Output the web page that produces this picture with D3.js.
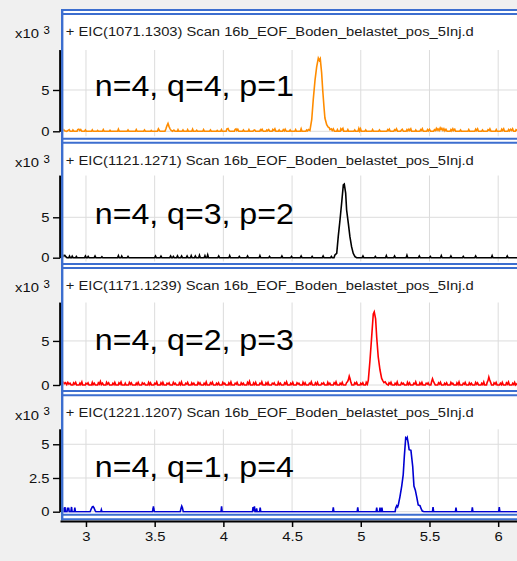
<!DOCTYPE html>
<html>
<head>
<meta charset="utf-8">
<script src="https://cdn.jsdelivr.net/npm/d3@7"></script>
<style>
  html, body { margin: 0; padding: 0; background: #f0f0f0; }
  svg { display: block; font-family: "Liberation Sans", Arial, sans-serif; }
</style>
</head>
<body>
<svg id="chart" width="517" height="561"></svg>
<script>
// Extracted ion chromatograms, intensities in thousands of counts, time in minutes
const titles = [
  "+ EIC(1071.1303) Scan 16b_EOF_Boden_belastet_pos_5Inj.d",
  "+ EIC(1121.1271) Scan 16b_EOF_Boden_belastet_pos_5Inj.d",
  "+ EIC(1171.1239) Scan 16b_EOF_Boden_belastet_pos_5Inj.d",
  "+ EIC(1221.1207) Scan 16b_EOF_Boden_belastet_pos_5Inj.d"
];
const labels = ["n=4, q=4, p=1", "n=4, q=3, p=2", "n=4, q=2, p=3", "n=4, q=1, p=4"];
const traceColors = ["#ff8c00", "#000000", "#ff0000", "#0000d2"];
const yMax = [9.84, 10.17, 9.36, 6.11];
const yTickValues = [[0, 5], [0, 5], [0, 5], [0, 2.5, 5]];
const xTickValues = [3, 3.5, 4, 4.5, 5, 5.5, 6];
const xRange = [2.811, 6.137];

const eic1071 = [
  [2.815,0.15],[2.822,0.25],[2.830,0.1],[2.838,0.2],[2.845,0.05],[2.860,0],[2.870,0.12],[2.878,0.2],[2.885,0],[2.900,0],[2.905,0.15],[2.912,0],
  [2.935,0],[2.940,0.2],[2.948,0.25],[2.955,0.1],[2.962,0.22],[2.970,0],[2.990,0],[2.996,0.15],[3.002,0],[3.040,0],[3.046,0.18],[3.052,0],
  [3.080,0],[3.085,0.1],[3.090,0],[3.120,0],[3.126,0.2],[3.132,0],[3.170,0],[3.175,0.12],[3.180,0],[3.230,0],[3.236,0.25],[3.242,0],
  [3.300,0],[3.306,0.15],[3.312,0],[3.360,0],[3.366,0.2],[3.372,0],[3.420,0],[3.426,0.15],[3.432,0],[3.470,0],[3.475,0.1],[3.480,0],
  [3.520,0],[3.527,0.3],[3.534,0.1],[3.540,0],[3.575,0],[3.582,0.3],[3.590,0.7],[3.597,0.95],[3.604,0.6],[3.612,0.3],[3.620,0.1],[3.630,0],
  [3.640,0.15],[3.648,0],[3.665,0],[3.670,0.2],[3.676,0],[3.700,0],[3.706,0.15],[3.712,0],[3.735,0],[3.740,0.2],[3.746,0],[3.770,0],
  [3.776,0.25],[3.782,0],[3.800,0],[3.806,0.12],[3.812,0],[3.850,0],[3.856,0.2],[3.862,0],[3.900,0],[3.906,0.15],[3.912,0],[3.950,0],
  [3.955,0.1],[3.960,0],[3.980,0],[3.986,0.2],[3.992,0],[4.020,0],[4.026,0.3],[4.034,0.35],[4.040,0.1],[4.048,0],[4.080,0],[4.085,0.2],
  [4.092,0.28],[4.098,0.1],[4.105,0.25],[4.112,0],[4.140,0],[4.146,0.15],[4.152,0],[4.180,0],[4.186,0.2],[4.192,0],[4.215,0],[4.220,0.1],
  [4.228,0.15],[4.235,0],[4.265,0],[4.270,0.2],[4.276,0.1],[4.282,0.25],[4.290,0],[4.310,0],[4.316,0.15],[4.322,0.05],[4.330,0.2],[4.338,0],
  [4.355,0],[4.360,0.22],[4.368,0.1],[4.375,0.3],[4.382,0],[4.400,0],[4.406,0.15],[4.412,0],[4.430,0],[4.436,0.2],[4.444,0.05],[4.450,0.25],
  [4.458,0],[4.480,0],[4.486,0.15],[4.492,0],[4.520,0],[4.526,0.2],[4.532,0],[4.560,0],[4.566,0.3],[4.572,0],[4.600,0],[4.606,0.15],
  [4.612,0.05],[4.620,0.2],
  [4.630,0.1],[4.643,1.4],[4.654,3.8],[4.667,6.2],[4.679,7.8],[4.691,8.85],[4.698,8.6],[4.705,8.8],[4.715,7.1],[4.723,5.0],[4.732,3.0],
  [4.739,1.6],[4.752,0.8],[4.763,0.5],[4.770,0.45],[4.776,0.2],[4.785,0.3],[4.792,0.1],[4.800,0.3],[4.808,0],
  [4.825,0],[4.830,0.2],[4.836,0],[4.850,0],[4.855,0.3],[4.862,0.15],[4.870,0.35],[4.876,0],[4.900,0],[4.906,0.2],[4.912,0],[4.950,0],
  [4.956,0.15],[4.962,0],[4.980,0],[4.986,0.35],[4.992,0.05],[4.998,0.3],[5.004,0],[5.030,0],[5.036,0.15],[5.042,0],[5.080,0],[5.086,0.2],
  [5.092,0],[5.130,0],[5.136,0.15],[5.142,0],[5.190,0],[5.196,0.2],[5.202,0.1],[5.208,0.25],[5.214,0],[5.240,0],[5.246,0.2],[5.254,0.1],
  [5.260,0.3],[5.268,0],[5.290,0],[5.296,0.15],[5.302,0.25],[5.310,0],[5.330,0],[5.336,0.2],[5.342,0.05],[5.350,0.25],[5.356,0.1],[5.364,0.3],
  [5.370,0],[5.395,0],[5.400,0.15],[5.406,0],[5.430,0],[5.436,0.2],[5.442,0.1],[5.448,0.3],[5.455,0],[5.480,0],[5.486,0.2],[5.492,0.05],
  [5.500,0.25],[5.508,0],[5.530,0],[5.536,0.2],[5.544,0.1],[5.550,0.35],[5.556,0.15],[5.562,0.3],[5.570,0.1],[5.578,0.4],[5.584,0.2],[5.590,0.35],
  [5.598,0.1],[5.605,0.3],[5.612,0.05],[5.620,0.25],[5.628,0],[5.650,0],[5.656,0.2],[5.662,0.05],[5.670,0.3],[5.676,0.1],[5.684,0.25],[5.690,0],
  [5.720,0],[5.726,0.15],[5.732,0],[5.780,0],[5.786,0.2],[5.792,0],[5.830,0],[5.836,0.25],[5.842,0.1],[5.850,0.3],[5.856,0],[5.880,0],
  [5.886,0.15],[5.892,0],[5.920,0],[5.926,0.2],[5.934,0.1],[5.940,0.3],[5.948,0],[5.980,0],[5.986,0.2],[5.992,0],[6.020,0],[6.026,0.25],
  [6.032,0.1],[6.040,0.3],[6.046,0],[6.070,0],[6.076,0.2],[6.082,0.05],[6.090,0.25],[6.098,0.1],[6.105,0.3],[6.112,0],[6.125,0],[6.130,0.2],
  [6.140,0.1]
];

const eic1121 = [
  [2.815,0.3],[2.822,0.15],[2.830,0.35],[2.838,0.2],[2.846,0.3],[2.855,0.1],[2.862,0],[2.875,0],[2.880,0.2],[2.886,0],[2.895,0],[2.900,0.18],
  [2.906,0],[2.925,0],[2.930,0.15],[2.936,0],[2.990,0],[2.996,0.2],[3.002,0],[3.010,0],[3.016,0.15],[3.022,0],[3.060,0],[3.066,0.2],
  [3.072,0],[3.110,0],[3.116,0.12],[3.122,0],[3.230,0],[3.236,0.25],[3.242,0],[3.255,0],[3.260,0.2],[3.266,0],[3.300,0],[3.306,0.15],
  [3.312,0],[3.500,0],[3.506,0.2],[3.512,0],[3.540,0],[3.546,0.18],[3.552,0],[3.610,0],[3.616,0.2],[3.622,0],[3.630,0],[3.636,0.15],
  [3.642,0],[3.660,0],[3.666,0.22],[3.672,0],[3.690,0],[3.696,0.2],[3.702,0],[3.730,0],[3.736,0.2],[3.742,0],[3.760,0],[3.766,0.25],
  [3.772,0],[3.790,0],[3.796,0.2],[3.802,0],[3.820,0],[3.826,0.3],[3.832,0],[3.860,0],[3.866,0.25],[3.872,0],[3.880,0],[3.886,0.35],
  [3.892,0],[3.960,0],[3.966,0.2],[3.972,0],[4.040,0],[4.046,0.25],[4.052,0],[4.110,0],[4.116,0.15],[4.122,0],[4.170,0],[4.176,0.2],
  [4.182,0],[4.260,0],[4.266,0.25],[4.272,0],[4.330,0],[4.336,0.15],[4.342,0],[4.420,0],[4.426,0.2],[4.432,0],[4.490,0],[4.496,0.15],
  [4.502,0],[4.560,0],[4.566,0.2],[4.572,0],[4.640,0],[4.646,0.15],[4.652,0],[4.720,0],[4.726,0.2],[4.732,0],[4.780,0],[4.786,0.15],
  [4.792,0],
  [4.805,0],[4.812,0.33],[4.825,0.54],[4.836,2.6],[4.849,4.7],[4.861,6.8],[4.873,9.0],[4.880,9.1],[4.890,8.0],[4.897,5.9],[4.909,4.3],
  [4.921,2.6],[4.933,1.36],[4.945,0.54],[4.958,0.12],[4.970,0],
  [5.010,0],[5.016,0.2],[5.022,0],[5.100,0],[5.106,0.15],[5.112,0],[5.180,0],[5.186,0.25],[5.192,0],[5.240,0],[5.246,0.2],[5.252,0],
  [5.330,0],[5.336,0.3],[5.342,0],[5.420,0],[5.426,0.2],[5.432,0],[5.500,0],[5.506,0.15],[5.512,0],[5.580,0],[5.586,0.25],[5.592,0],
  [5.650,0],[5.656,0.2],[5.662,0],[5.740,0],[5.746,0.15],[5.752,0],[5.830,0],[5.836,0.2],[5.842,0],[5.950,0],[5.956,0.25],[5.962,0],
  [6.060,0],[6.066,0.2],[6.072,0],[6.140,0]
];

const eic1171 = [
  [2.815,0.2],[2.822,0.35],[2.830,0.1],[2.838,0.3],[2.845,0.15],[2.852,0.25],[2.860,0.05],[2.868,0.3],[2.876,0.1],[2.884,0.2],[2.892,0],
  [2.905,0],[2.910,0.25],[2.918,0.1],[2.925,0.3],[2.932,0],[2.950,0],[2.956,0.2],[2.962,0.05],[2.970,0.35],[2.976,0],[2.995,0],[3.000,0.2],
  [3.008,0.1],[3.015,0.25],[3.022,0],[3.040,0],[3.046,0.3],[3.052,0.05],[3.060,0.2],[3.068,0],[3.085,0],[3.090,0.25],[3.098,0.1],[3.105,0.4],
  [3.112,0.05],[3.120,0.2],[3.128,0],[3.145,0],[3.150,0.3],[3.158,0.1],[3.165,0.25],[3.172,0],[3.190,0],[3.196,0.2],[3.204,0.05],[3.210,0.3],
  [3.218,0],[3.235,0],[3.240,0.25],[3.248,0.1],[3.255,0.35],[3.262,0],[3.280,0],[3.286,0.2],[3.292,0],[3.310,0],[3.316,0.3],[3.324,0.1],
  [3.330,0.25],[3.338,0],[3.360,0],[3.366,0.2],[3.372,0.05],[3.380,0.3],[3.388,0],[3.405,0],[3.410,0.25],[3.418,0.1],[3.425,0.2],[3.432,0],
  [3.450,0],[3.456,0.3],[3.464,0.05],[3.470,0.25],[3.478,0],[3.495,0],[3.500,0.2],[3.508,0.1],[3.515,0.35],[3.522,0],[3.540,0],[3.546,0.25],
  [3.554,0.05],[3.560,0.3],[3.568,0],[3.585,0],[3.590,0.2],[3.598,0.1],[3.605,0.25],[3.612,0],[3.630,0],[3.636,0.3],[3.644,0.1],[3.650,0.2],
  [3.658,0],[3.675,0],[3.680,0.25],[3.688,0.05],[3.695,0.35],[3.702,0],[3.720,0],[3.726,0.2],[3.734,0.1],[3.740,0.3],[3.748,0],[3.765,0],
  [3.770,0.25],[3.778,0.05],[3.785,0.2],[3.792,0],[3.810,0],[3.816,0.3],[3.824,0.1],[3.830,0.25],[3.838,0],[3.855,0],[3.860,0.2],[3.868,0.05],
  [3.875,0.35],[3.882,0],[3.900,0],[3.906,0.25],[3.914,0.1],[3.920,0.3],[3.928,0],[3.945,0],[3.950,0.2],[3.958,0.05],[3.965,0.25],[3.972,0],
  [3.990,0],[3.996,0.3],[4.004,0.1],[4.010,0.2],[4.018,0],[4.035,0],[4.040,0.25],[4.048,0.05],[4.055,0.35],[4.062,0],[4.080,0],[4.086,0.2],
  [4.094,0.1],[4.100,0.3],[4.108,0],[4.125,0],[4.130,0.25],[4.138,0.05],[4.145,0.2],[4.152,0],[4.170,0],[4.176,0.3],[4.184,0.1],[4.190,0.4],
  [4.198,0],[4.215,0],[4.220,0.25],[4.228,0.05],[4.235,0.3],[4.242,0],[4.260,0],[4.266,0.2],[4.274,0.1],[4.280,0.35],[4.288,0],[4.305,0],
  [4.310,0.25],[4.318,0.05],[4.325,0.3],[4.332,0],[4.350,0],[4.356,0.2],[4.364,0.1],[4.370,0.25],[4.378,0],[4.395,0],[4.400,0.3],[4.408,0.05],
  [4.415,0.2],[4.422,0],[4.440,0],[4.446,0.25],[4.454,0.1],[4.460,0.35],[4.468,0],[4.485,0],[4.490,0.2],[4.498,0.05],[4.505,0.3],[4.512,0],
  [4.530,0],[4.536,0.25],[4.544,0.1],[4.550,0.2],[4.558,0],[4.575,0],[4.580,0.3],[4.588,0.05],[4.595,0.25],[4.602,0],[4.620,0],[4.626,0.2],
  [4.634,0.1],[4.640,0.35],[4.648,0],[4.665,0],[4.670,0.25],[4.678,0.05],[4.685,0.3],[4.692,0],[4.710,0],[4.716,0.2],[4.724,0.1],[4.730,0.25],
  [4.738,0],[4.755,0],[4.760,0.3],[4.768,0.05],[4.775,0.2],[4.782,0],[4.800,0],[4.806,0.25],[4.814,0.1],[4.820,0.35],[4.828,0],[4.845,0],
  [4.850,0.2],[4.858,0.05],[4.865,0.3],[4.872,0],[4.890,0],[4.896,0.25],[4.904,0.4],[4.910,0.6],[4.916,1.0],[4.922,0.7],[4.928,0.3],[4.935,0],
  [4.950,0],[4.956,0.25],[4.964,0.1],[4.970,0.3],[4.978,0],[4.995,0],[5.000,0.2],[5.008,0.05],[5.015,0.25],[5.022,0],[5.035,0],[5.040,0.3],
  [5.048,0.1],
  [5.055,0.56],[5.067,2.8],[5.079,5.4],[5.091,8.06],[5.098,8.3],[5.108,7.5],[5.116,5.4],[5.127,3.2],[5.140,1.7],[5.152,0.75],[5.160,0.5],
  [5.169,0.26],[5.178,0.35],[5.188,0.1],
  [5.200,0],[5.206,0.25],[5.214,0.1],[5.220,0.3],[5.228,0],[5.245,0],[5.250,0.2],[5.258,0.05],[5.265,0.35],[5.272,0],[5.290,0],[5.296,0.25],
  [5.304,0.1],[5.310,0.2],[5.318,0],[5.335,0],[5.340,0.3],[5.348,0.05],[5.355,0.25],[5.362,0],[5.380,0],[5.386,0.2],[5.394,0.1],[5.400,0.35],
  [5.408,0],[5.425,0],[5.430,0.25],[5.438,0.05],[5.445,0.3],[5.452,0],[5.470,0],[5.476,0.2],[5.484,0.1],[5.490,0.25],[5.498,0],[5.510,0],
  [5.516,0.4],[5.522,0.7],[5.528,0.45],[5.535,0.2],[5.542,0],[5.560,0],[5.566,0.25],[5.574,0.1],[5.580,0.3],[5.588,0],[5.605,0],[5.610,0.2],
  [5.618,0.05],[5.625,0.25],[5.632,0],[5.650,0],[5.656,0.3],[5.664,0.1],[5.670,0.2],[5.678,0],[5.695,0],[5.700,0.25],[5.708,0.05],[5.715,0.35],
  [5.722,0],[5.740,0],[5.746,0.2],[5.754,0.1],[5.760,0.3],[5.768,0],[5.785,0],[5.790,0.25],[5.798,0.05],[5.805,0.2],[5.812,0],[5.830,0],
  [5.836,0.3],[5.844,0.1],[5.850,0.25],[5.858,0],[5.875,0],[5.880,0.2],[5.888,0.05],[5.895,0.35],[5.902,0],[5.915,0],[5.920,0.3],[5.926,0.5],
  [5.932,0.9],[5.938,0.6],[5.945,0.3],[5.952,0],[5.965,0],[5.970,0.25],[5.978,0.1],[5.985,0.3],[5.992,0],[6.010,0],[6.016,0.2],[6.024,0.05],
  [6.030,0.3],[6.038,0],[6.055,0],[6.060,0.25],[6.068,0.1],[6.075,0.35],[6.082,0],[6.100,0],[6.106,0.2],[6.114,0.05],[6.120,0.3],[6.128,0],
  [6.140,0.2]
];

const eic1221 = [
  [2.815,0],[2.828,0],[2.833,0.3],[2.838,0],[2.843,0],[2.847,0.35],[2.851,0],[2.862,0],[2.866,0.3],[2.870,0.1],[2.874,0.3],[2.878,0],
  [2.890,0],[2.895,0.35],[2.899,0],[2.915,0],[2.919,0.3],[2.923,0],[3.030,0],[3.038,0.2],[3.046,0.35],[3.052,0.38],[3.058,0.3],[3.066,0.1],
  [3.072,0],[3.108,0],[3.112,0.15],[3.116,0],[3.484,0],[3.488,0.2],[3.491,0.4],[3.494,0.2],[3.498,0],[3.686,0],[3.692,0.25],[3.697,0.42],
  [3.702,0.3],[3.708,0],[3.983,0],[3.987,0.4],[3.991,0],[4.212,0],[4.216,0.35],[4.220,0.05],[4.226,0.4],[4.230,0],[4.238,0],[4.242,0.25],
  [4.246,0],[4.264,0],[4.268,0.3],[4.272,0],[4.796,0],[4.800,0.32],[4.804,0],[4.974,0],[4.978,0.32],[4.982,0],[5.112,0],[5.116,0.3],
  [5.120,0],[5.136,0],[5.140,0.3],[5.144,0],[5.150,0],[5.154,0.3],[5.158,0],[5.250,0],[5.255,0.3],[5.262,0.45],[5.268,0.35],
  [5.273,0.5],[5.285,1.1],[5.298,1.9],[5.309,2.75],[5.317,4.1],[5.327,5.48],[5.333,5.4],[5.338,5.5],[5.345,5.1],[5.352,4.6],[5.365,4.55],
  [5.378,3.35],[5.387,1.9],[5.397,1.6],[5.407,1.1],[5.418,0.5],[5.431,0.45],[5.440,0.2],[5.448,0.05],[5.460,0],
  [5.522,0],[5.526,0.35],[5.530,0],[5.689,0],[5.693,0.3],[5.697,0],[5.808,0],[5.812,0.32],[5.816,0],[6.004,0],[6.008,0.35],[6.012,0],
  [6.140,0]
];

const traces = [eic1071, eic1121, eic1171, eic1221];

// Panel geometry (pixels)
const panelTop = [14, 142.7, 268, 395.3];
const panelBottom = [138.8, 264, 391, 514.7];
const zeroY = [131.3, 257.7, 385, 511.7];
const axisTopY = [50, 175.5, 302.5, 429.3];
const borderTopOuter = 10;
const frameBottom = 519.2;
const plotLeft = 60, plotRight = 517;
const textStretch = 1.14;

const svg = d3.select("#chart");
const borderColor = "#3c6ecf";
const gridColor = "#dcdcdc";

const x = d3.scaleLinear().domain(xRange).range([plotLeft, plotRight]);

// white frame area behind all panels
svg.append("rect").attr("x", 62).attr("y", borderTopOuter - 1)
  .attr("width", plotRight - 62).attr("height", frameBottom - borderTopOuter + 2)
  .attr("fill", "#ffffff");

const defs = svg.append("defs");

traces.forEach((data, i) => {
  const g = svg.append("g");
  const y = d3.scaleLinear().domain([0, yMax[i]]).range([zeroY[i], axisTopY[i]]);

  // grid
  g.append("g").selectAll("line").data(xTickValues).join("line")
    .attr("x1", d => x(d)).attr("x2", d => x(d))
    .attr("y1", axisTopY[i]).attr("y2", panelBottom[i] - 2.5)
    .attr("stroke", gridColor).attr("stroke-width", 1);
  g.append("g").selectAll("line").data(yTickValues[i]).join("line")
    .attr("x1", 63).attr("x2", plotRight)
    .attr("y1", d => y(d)).attr("y2", d => y(d))
    .attr("stroke", gridColor).attr("stroke-width", 1);

  // trace
  defs.append("clipPath").attr("id", "clip" + i)
    .append("rect").attr("x", 63.4).attr("y", axisTopY[i] - 8)
    .attr("width", plotRight - 63.4).attr("height", panelBottom[i] - axisTopY[i] + 6);
  const line = d3.line().x(d => x(d[0])).y(d => y(d[1]));
  g.append("path").datum(data)
    .attr("clip-path", "url(#clip" + i + ")")
    .attr("d", line)
    .attr("fill", "none")
    .attr("stroke", traceColors[i])
    .attr("stroke-width", 1.6)
    .attr("stroke-linejoin", "miter");

  // y axis
  const yAxis = d3.axisLeft(y).tickValues(yTickValues[i])
    .tickFormat(d3.format("~g")).tickSize(7).tickSizeOuter(0).tickPadding(2.2);
  const ya = g.append("g").attr("transform", `translate(${plotLeft},0)`).call(yAxis);
  ya.select(".domain").attr("stroke", "#000").attr("stroke-width", 1.6);
  ya.selectAll(".tick line").attr("stroke", "#000").attr("stroke-width", 1.4);
  ya.selectAll(".tick text").attr("fill", "#111").attr("font-size", 13)
    .attr("font-family", '"Liberation Sans", Arial, sans-serif')
    .attr("transform", `scale(${textStretch},1)`);

  // multiplier label
  g.append("text").attr("transform", `translate(15,${panelTop[i] + 24.3}) scale(${textStretch},1)`)
    .attr("font-size", 13).attr("fill", "#111").text("x10");
  g.append("text").attr("transform", `translate(43.5,${panelTop[i] + 20}) scale(${textStretch},1)`)
    .attr("font-size", 10).attr("fill", "#000").text("3");

  // header
  g.append("text").attr("x", 65.8).attr("y", panelTop[i] + 22)
    .attr("font-size", 12.5).attr("fill", "#1a1a1a")
    .attr("textLength", 408).attr("lengthAdjust", "spacingAndGlyphs")
    .text(titles[i]);

  // annotation
  g.append("text").attr("x", 94.8).attr("y", panelTop[i] + 81.5)
    .attr("font-size", 29).attr("fill", "#000")
    .attr("textLength", 199).attr("lengthAdjust", "spacingAndGlyphs")
    .text(labels[i]);
});

// panel borders
const borderLines = [borderTopOuter, panelTop[0], panelBottom[0], panelTop[1],
  panelBottom[1], panelTop[2], panelBottom[2], panelTop[3], panelBottom[3], frameBottom];
svg.append("g").selectAll("line").data(borderLines).join("line")
  .attr("x1", 61).attr("x2", plotRight)
  .attr("y1", d => d).attr("y2", d => d)
  .attr("stroke", borderColor).attr("stroke-width", 2);
svg.append("line").attr("x1", 62.2).attr("x2", 62.2)
  .attr("y1", borderTopOuter - 1).attr("y2", frameBottom + 1)
  .attr("stroke", borderColor).attr("stroke-width", 2.4);

// y axis lines redrawn on top of the border
traces.forEach((data, i) => {
  svg.append("line").attr("x1", plotLeft).attr("x2", plotLeft)
    .attr("y1", axisTopY[i]).attr("y2", zeroY[i])
    .attr("stroke", "#000").attr("stroke-width", 1.6);
});

// x axis
const xAxis = d3.axisBottom(x).tickValues(xTickValues)
  .tickFormat(d3.format("~g")).tickSize(6).tickSizeOuter(0).tickPadding(4.3);
const xa = svg.append("g").attr("transform", "translate(0,521)").call(xAxis);
xa.select(".domain").attr("stroke", "#000").attr("stroke-width", 1.8);
xa.selectAll(".tick line").attr("stroke", "#000").attr("stroke-width", 1.5);
xa.selectAll(".tick text").attr("fill", "#111").attr("font-size", 13)
  .attr("font-family", '"Liberation Sans", Arial, sans-serif')
  .attr("transform", `scale(${textStretch},1)`);
</script>
</body>
</html>
